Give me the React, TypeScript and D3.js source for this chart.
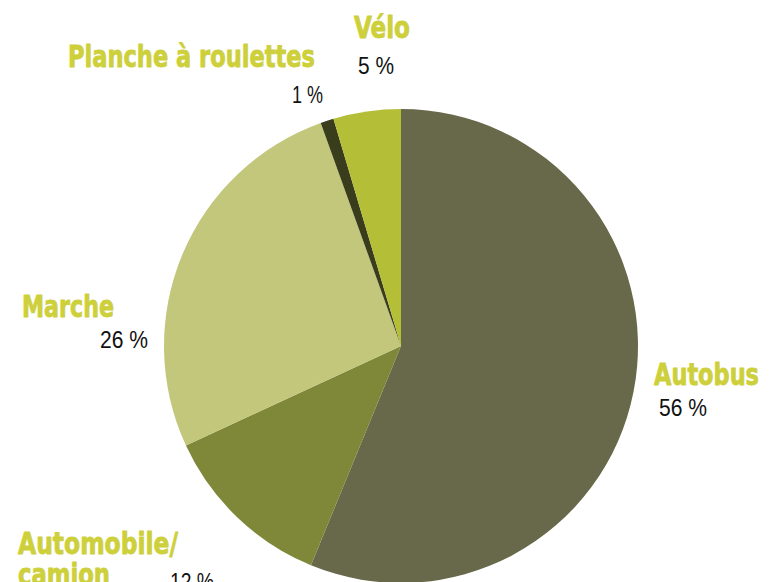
import React from "react";
import * as d3 from "d3";

const categories = ["Autobus", "Automobile/camion", "Marche", "Planche à roulettes", "Vélo"];
const values = [56.2, 11.9, 26.4, 0.9, 4.6];
const valueLabels = ["56 %", "12 %", "26 %", "1 %", "5 %"];
const colors = ["#68684a", "#7f8838", "#c3c77b", "#3a3d1c", "#b4be37"];

// label layout (name lines, position of name and value)
const labelLayout = [
  { lines: ["Autobus"], x: 654, y: 385, w: [105], vx: 659, vy: 416, vw: 48 },
  { lines: ["Automobile/", "camion"], x: 18, y: 554, w: [160, 92], vx: 170, vy: 590, vw: 44 },
  { lines: ["Marche"], x: 22, y: 317, w: [92], vx: 100, vy: 348, vw: 48 },
  { lines: ["Planche à roulettes"], x: 68, y: 67, w: [247], vx: 292, vy: 103, vw: 31 },
  { lines: ["Vélo"], x: 354, y: 38, w: [56], vx: 358, vy: 74, vw: 36 },
];

export default function App() {
  const cx = 401, cy = 346, r = 237;
  const pie = d3.pie<number>().sort(null).value((d) => d);
  const arcs = pie(values);
  const arc = d3.arc<d3.PieArcDatum<number>>().innerRadius(0).outerRadius(r);
  return (
    <svg width={777} height={582} style={{ position: "absolute", left: 0, top: 0, background: "#fff" }}>
      <g transform={`translate(${cx},${cy})`}>
        {arcs.map((a, i) => (
          <path key={categories[i]} d={arc(a) || ""} fill={colors[i]} />
        ))}
      </g>
      {labelLayout.map((l, i) => (
        <g key={categories[i]}>
          {l.lines.map((t, j) => (
            <text
              key={j}
              x={l.x}
              y={l.y + j * 31}
              fill="#cdd03a"
              stroke="#cdd03a"
              strokeWidth={0.8}
              strokeLinejoin="round"
              fontFamily="'DejaVu Sans Condensed', 'DejaVu Sans', sans-serif"
              fontWeight="bold"
              fontStretch="condensed"
              fontSize={30}
              textLength={l.w[j]}
              lengthAdjust="spacingAndGlyphs"
            >
              {t}
            </text>
          ))}
          <text
            x={l.vx}
            y={l.vy}
            fill="#111"
            fontFamily="'Liberation Sans', Arial, sans-serif"
            fontSize={24}
            textLength={l.vw}
            lengthAdjust="spacingAndGlyphs"
          >
            {valueLabels[i]}
          </text>
        </g>
      ))}
    </svg>
  );
}
